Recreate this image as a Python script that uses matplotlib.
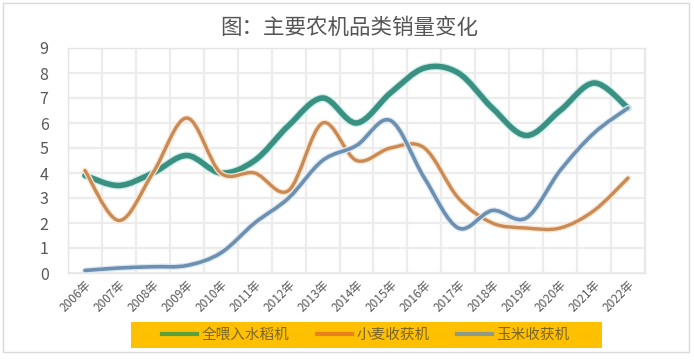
import numpy as np
import matplotlib
matplotlib.use('Agg')
import matplotlib.pyplot as plt
import matplotlib.patheffects as pe
from matplotlib.path import Path
from matplotlib.patches import PathPatch, Rectangle
from matplotlib.lines import Line2D

plt.rcParams['font.family'] = ['Noto Sans CJK SC', 'DejaVu Sans']

years = ['2006年', '2007年', '2008年', '2009年', '2010年', '2011年', '2012年', '2013年', '2014年',
         '2015年', '2016年', '2017年', '2018年', '2019年', '2020年', '2021年', '2022年']
rice = [3.9, 3.5, 4.0, 4.7, 4.0, 4.5, 5.9, 7.0, 6.0, 7.2, 8.2, 8.0, 6.6, 5.5, 6.5, 7.6, 6.6]
wheat = [4.1, 2.1, 4.0, 6.2, 4.0, 4.0, 3.3, 6.0, 4.5, 5.0, 5.0, 3.0, 2.0, 1.8, 1.8, 2.5, 3.8]
corn = [0.1, 0.2, 0.25, 0.3, 0.8, 2.0, 3.0, 4.5, 5.1, 6.1, 3.8, 1.8, 2.5, 2.2, 4.1, 5.6, 6.6]
series_names = ['全喂入水稻机', '小麦收获机', '玉米收获机']


def smooth_path(y):
    # Excel-style smoothed line: cubic Bezier through every point
    x = np.arange(len(y), dtype=float)
    p = np.column_stack([x, np.asarray(y, dtype=float)])
    verts = [p[0]]
    codes = [Path.MOVETO]
    n = len(p)
    for i in range(n - 1):
        p0 = p[max(i - 1, 0)]
        p3 = p[min(i + 2, n - 1)]
        c1 = p[i] + (p[i + 1] - p0) / 6.0
        c2 = p[i + 1] - (p3 - p[i]) / 6.0
        verts += [c1, c2, p[i + 1]]
        codes += [Path.CURVE4] * 3
    return Path(verts, codes)


fig = plt.figure(figsize=(6.94, 3.63), dpi=100)
fig.add_artist(Rectangle((3 / 694, 11 / 363), 686 / 694, 349 / 363, transform=fig.transFigure,
                         fill=False, edgecolor='#d9d9d9', linewidth=1))

ax = fig.add_axes([68 / 694, 1 - 273 / 363, 577 / 694, 225 / 363])
ax.set_xlim(-0.5, len(years) - 0.5)
ax.set_ylim(0, 9)

for v in range(0, 10):
    ax.axhline(v, color='#ececec', linewidth=1.6, zorder=0)
for k in range(len(years) + 1):
    ax.axvline(k - 0.5, color='#ececec', linewidth=1.6, zorder=0)

styles = [
    (rice, '#3a9181', 4.0, '#cdeeea'),
    (wheat, '#c98a55', 2.4, '#fbe5cc'),
    (corn, '#6d8fb0', 2.6, '#dce9f4'),
]
for vals, col, lw, glow in styles:
    patch = PathPatch(smooth_path(vals), facecolor='none', edgecolor=col, linewidth=lw,
                      capstyle='round', joinstyle='round', zorder=3,
                      path_effects=[pe.Stroke(linewidth=lw + 1.8, foreground=glow), pe.Normal()])
    ax.add_patch(patch)

ax.set_xticks(range(len(years)))
ax.set_xticklabels(years, rotation=45, ha='right', rotation_mode='anchor', fontsize=8.5, color='#595959')
ax.set_yticks(range(0, 10))
ax.tick_params(axis='y', labelsize=11.5, colors='#595959', length=0, pad=14)
ax.tick_params(axis='x', length=0, pad=4)
for s in ax.spines.values():
    s.set_color('#e6e6e6')
    s.set_linewidth(1)

fig.text(349 / 694, 1 - 28 / 363, '图：主要农机品类销量变化', ha='center', va='center',
         fontsize=15.5, color='#555555')

# legend with yellow band
fig.add_artist(Rectangle((131 / 694, 1 - 348 / 363), 471 / 694, 26 / 363, transform=fig.transFigure,
                         facecolor='#ffc000', edgecolor='none', zorder=1))
handles = [Line2D([], [], color=c, linewidth=3) for c in ['#5aa03c', '#e8821e', '#8e9a8a']]
leg = fig.legend(handles, series_names, loc='center', bbox_to_anchor=(366 / 694, 1 - 335 / 363),
                 ncol=3, frameon=False, fontsize=10.5, handlelength=2.4, handletextpad=0.3,
                 columnspacing=1.9, labelcolor='#7a6526')
leg.set_zorder(2)

fig.savefig('out.png', dpi=100)
